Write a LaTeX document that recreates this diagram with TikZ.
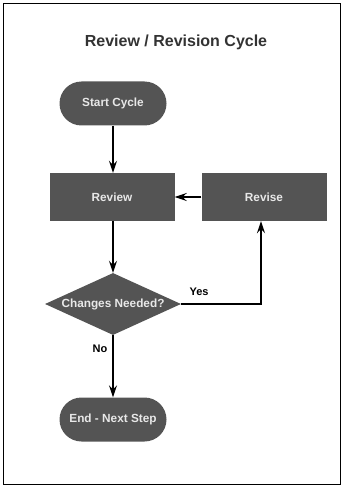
\documentclass[tikz,border=0pt]{standalone}
\usepackage{fontspec}
\setmainfont{Liberation Sans}
\usetikzlibrary{shapes.geometric,arrows.meta}
\definecolor{boxgray}{HTML}{545454}
\definecolor{txtlight}{HTML}{E8E8E8}
\definecolor{titlegray}{HTML}{333333}
\tikzset{
  flowline/.style={line width=1.5pt, draw=black, -{Stealth[length=12pt,width=8pt,inset=4pt]}},
  termbox/.style={fill=boxgray, text=txtlight, font=\bfseries\fontsize{11.8}{14}\selectfont, minimum width=107pt, minimum height=44pt, rounded corners=22pt, inner sep=0pt},
  procbox/.style={fill=boxgray, text=txtlight, font=\bfseries\fontsize{11.8}{14}\selectfont, minimum width=125pt, minimum height=48pt, inner sep=0pt},
  decbox/.style={diamond, fill=boxgray, minimum width=136pt, minimum height=62pt, inner sep=0pt},
  dectext/.style={text=txtlight, font=\bfseries\fontsize{11.8}{14}\selectfont},
  edgelabel/.style={text=black, font=\bfseries\fontsize{11}{13}\selectfont},
}
\begin{document}
\begin{tikzpicture}[x=1pt,y=-1pt]
\useasboundingbox (0,0) rectangle (344,489);
\draw[line width=0.8pt] (3.5,3.5) rectangle (340.5,484.5);
\node[text=titlegray, font=\bfseries\fontsize{16}{19}\selectfont] (title) at (176,42) {Review / Revision Cycle};
\node[termbox] (start) at (113,103.5) {Start Cycle};
\node[procbox] (review) at (112,197) {Review};
\node[procbox] (revise) at (264,197) {Revise};
\node[decbox] (dec) at (113,304) {};
\node[dectext] (dect) at (dec.center) {Changes Needed?};
\node[termbox] (end) at (113,419.5) {End - Next Step};
\coordinate (corner) at (261,304);
\draw[flowline] (start.south) -- (start.south |- review.north);
\draw[flowline] (revise.west) -- (review.east);
\draw[flowline] (dec.north |- review.south) -- (dec.north);
\draw[flowline] (dec.east) -- (corner) -- (corner |- revise.south);
\draw[flowline] (dec.south) -- (end.north);
\node[edgelabel] (yes) at (199,292) {Yes};
\node[edgelabel] (no) at (100,349) {No};
\end{tikzpicture}
\end{document}
